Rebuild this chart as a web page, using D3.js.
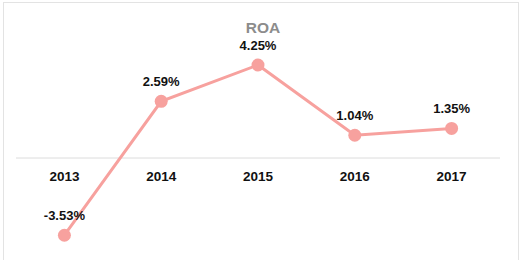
<!DOCTYPE html>
<html>
<head>
<meta charset="utf-8">
<script src="https://cdn.jsdelivr.net/npm/d3@7"></script>
<style>
  body { margin: 0; background: #fff; }
  svg { display: block; font-family: "Liberation Sans", Arial, sans-serif; }
</style>
</head>
<body>
<svg id="chart" width="527" height="260"></svg>
<script>
const years = ["2013", "2014", "2015", "2016", "2017"];
const roa = [-3.53, 2.59, 4.25, 1.04, 1.35];
const title = "ROA";

const svg = d3.select("#chart");

// frame
svg.append("rect")
  .attr("x", 3.5).attr("y", 2.5)
  .attr("width", 515).attr("height", 262)
  .attr("fill", "none")
  .attr("stroke", "#e3e3e3");

const x = d3.scalePoint()
  .domain(years)
  .range([16, 500])
  .padding(0.5);

const y = d3.scaleLinear()
  .domain([0, 4.25])
  .range([158, 65]);

// zero axis line
svg.append("line")
  .attr("x1", 16).attr("x2", 500)
  .attr("y1", y(0)).attr("y2", y(0))
  .attr("stroke", "#dcdcdc")
  .attr("stroke-width", 1);

// category labels
svg.append("g")
  .selectAll("text")
  .data(years)
  .enter()
  .append("text")
  .attr("x", d => x(d))
  .attr("y", y(0) + 23)
  .attr("text-anchor", "middle")
  .attr("font-size", 13.5)
  .attr("font-weight", "bold")
  .attr("fill", "#111")
  .text(d => d);

// title
svg.append("text")
  .attr("x", 263)
  .attr("y", 32.5)
  .attr("text-anchor", "middle")
  .attr("font-size", 15.5)
  .attr("font-weight", "bold")
  .attr("fill", "#8c8c8c")
  .text(title);

const data = years.map((d, i) => ({ year: d, value: roa[i] }));

const line = d3.line()
  .x(d => x(d.year))
  .y(d => y(d.value));

svg.append("path")
  .datum(data)
  .attr("d", line)
  .attr("fill", "none")
  .attr("stroke", "#f7a19e")
  .attr("stroke-width", 3);

svg.append("g")
  .selectAll("circle")
  .data(data)
  .enter()
  .append("circle")
  .attr("cx", d => x(d.year))
  .attr("cy", d => y(d.value))
  .attr("r", 6.5)
  .attr("fill", "#f7a19e");

// value labels
svg.append("g")
  .selectAll("text")
  .data(data)
  .enter()
  .append("text")
  .attr("x", d => x(d.year))
  .attr("y", d => y(d.value) - 15)
  .attr("text-anchor", "middle")
  .attr("font-size", 13)
  .attr("font-weight", "bold")
  .attr("fill", "#111")
  .text(d => d.value.toFixed(2) + "%");
</script>
</body>
</html>
